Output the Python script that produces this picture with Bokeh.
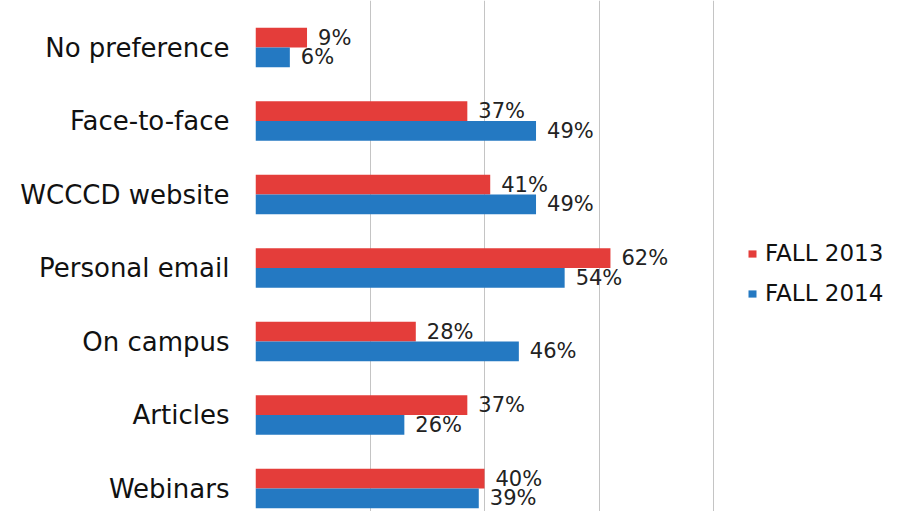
from bokeh.plotting import figure
from bokeh.models import Range1d, FixedTicker, Legend, LegendItem, ColumnDataSource
from bokeh.core.properties import value
from bokeh.embed import file_html
from bokeh.resources import INLINE

categories = ["No preference", "Face-to-face", "WCCCD website", "Personal email",
              "On campus", "Articles", "Webinars"]
fall_2013 = [9, 37, 41, 62, 28, 37, 40]
fall_2014 = [6, 49, 49, 54, 46, 26, 39]
series_names = ["FALL 2013", "FALL 2014"]
grid_ticks = [0, 20, 40, 60, 80]

RED = "#E43D3A"
BLUE = "#2479C2"
FONT = "DejaVu Sans"

idx = list(range(len(categories)))
off = 0.135
src13 = ColumnDataSource(dict(y=[i - off for i in idx], v=fall_2013,
                              lab=[f"{v}%" for v in fall_2013]))
src14 = ColumnDataSource(dict(y=[i + off for i in idx], v=fall_2014,
                              lab=[f"{v}%" for v in fall_2014]))

W, H = 885, 511
LEFT = 255
PX_PER_PCT = 5.725
BAND = 73.5
FIRST = 47
p = figure(width=W, height=H, output_backend="svg", toolbar_location=None,
           x_range=Range1d(0, (W - LEFT) / PX_PER_PCT),
           y_range=Range1d((H - FIRST) / BAND, -FIRST / BAND),
           min_border_left=LEFT, min_border_right=0, min_border_top=0, min_border_bottom=0)
p.outline_line_color = None
p.background_fill_color = "white"
p.border_fill_color = "white"

r13 = p.hbar(y="y", right="v", left=0, height=0.27, source=src13,
             fill_color=RED, line_color=None)
r14 = p.hbar(y="y", right="v", left=0, height=0.27, source=src14,
             fill_color=BLUE, line_color=None)

for src in (src13, src14):
    p.text(x="v", y="y", text="lab", source=src, x_offset=11,
           text_align="left", text_baseline="middle",
           text_font=value(FONT), text_font_size="21px", text_color="#222222")

p.xaxis.visible = False
p.xgrid.ticker = FixedTicker(ticks=grid_ticks)
p.xgrid.grid_line_color = "#C4C4C4"
p.xgrid.grid_line_width = 1
p.ygrid.visible = False

ya = p.yaxis[0]
ya.ticker = FixedTicker(ticks=idx)
ya.major_label_overrides = {i: c for i, c in zip(idx, categories)}
ya.axis_line_color = None
ya.major_tick_line_color = None
ya.minor_tick_line_color = None
ya.major_tick_out = 0
ya.major_tick_in = 0
ya.major_label_standoff = 26
ya.major_label_text_font = FONT
ya.major_label_text_font_size = "26px"
ya.major_label_text_color = "#111111"

legend = Legend(items=[LegendItem(label=series_names[0], renderers=[r13]),
                       LegendItem(label=series_names[1], renderers=[r14])],
                location=(492, 198), orientation="vertical")
legend.padding = 0
legend.margin = 0
legend.spacing = 0
legend.border_line_color = None
legend.background_fill_alpha = 0
legend.glyph_width = 10
legend.glyph_height = 9
legend.label_height = 40
legend.label_standoff = 8
legend.label_text_font = FONT
legend.label_text_font_size = "23px"
legend.label_text_color = "#111111"
legend.label_text_baseline = "middle"
p.add_layout(legend, "center")

open("out.html", "w").write(file_html(p, INLINE))
